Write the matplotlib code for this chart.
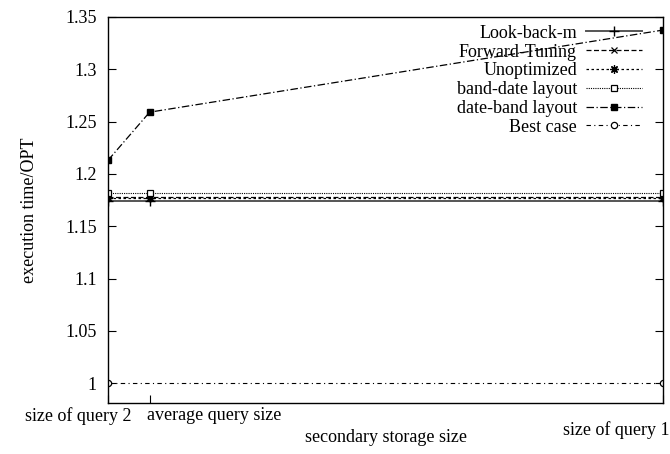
import matplotlib
matplotlib.use("Agg")
import matplotlib.pyplot as plt
from matplotlib.transforms import ScaledTranslation

plt.rcParams['font.family'] = ['Liberation Serif', 'DejaVu Serif']

# x positions of the three storage sizes (relative)
x_pos = [0.0, 0.075, 1.0]
x_labels = ["size of query 2", "average query size", "size of query 1"]

look_back = [1.1745, 1.1745, 1.1745]
forward_tuning = [1.1775, 1.1775, 1.1775]
unoptimized = [1.1768, 1.1768, 1.1768]
band_date = [1.1815, 1.1815, 1.1815]
date_band = [1.213, 1.259, 1.3375]
best_x = [0.0, 1.0]
best_case = [1.0, 1.0]

y_ticks = [1, 1.05, 1.1, 1.15, 1.2, 1.25, 1.3, 1.35]
y_tick_labels = ["1", "1.05", "1.1", "1.15", "1.2", "1.25", "1.3", "1.35"]

fs = 13

fig = plt.figure(figsize=(6.7, 4.54), dpi=100)
ax = fig.add_axes([0.1612, 0.1123, 0.8284, 0.8503])

ax.plot(x_pos, look_back, color="#555555", lw=1.4, marker="+", ms=7, mew=1,
        mec="black", label="Look-back-m")
ax.plot(x_pos, forward_tuning, color="black", lw=0.9, ls=(0, (4, 2)),
        marker="x", ms=4.5, mew=0.9, label="Forward-Tuning")
ax.plot(x_pos, unoptimized, color="black", lw=0.9, ls=(0, (2, 2)),
        marker=(8, 2, 0), ms=6, mew=0.9, label="Unoptimized")
ax.plot(x_pos, band_date, color="black", lw=0.8, ls=(0, (1, 1)),
        marker="s", ms=5, mfc="white", mew=0.9, label="band-date layout")
ax.plot(x_pos, date_band, color="black", lw=0.9, ls=(0, (6, 2, 1, 2)),
        marker="s", ms=5, mfc="black", label="date-band layout")
ax.plot(best_x, best_case, color="black", lw=0.8, ls=(0, (4, 3, 1, 3)),
        marker="o", ms=4.5, mfc="white", mew=0.9, label="Best case")

ax.set_xlim(0, 1)
ax.set_ylim(0.981, 1.35)
ax.set_yticks(y_ticks)
ax.set_yticklabels(y_tick_labels, fontsize=fs)
ax.set_xticks(x_pos)
ax.set_xticklabels(x_labels, fontsize=fs)

ax.tick_params(axis="y", direction="in", length=6, width=0.8, right=True, pad=8)
ax.tick_params(axis="x", direction="in", length=6, width=0.8, top=False, pad=3)

labs = ax.get_xticklabels()
labs[0].set_transform(labs[0].get_transform() + ScaledTranslation(-0.30, 0, fig.dpi_scale_trans))
labs[1].set_ha("left")
labs[1].set_transform(labs[1].get_transform() + ScaledTranslation(-0.03, 0, fig.dpi_scale_trans))
labs[2].set_ha("right")
labs[2].set_transform(labs[2].get_transform() + ScaledTranslation(0.07, -0.14, fig.dpi_scale_trans))

for s in ax.spines.values():
    s.set_linewidth(1.0)

ax.set_xlabel("secondary storage size", fontsize=fs)
ax.xaxis.set_label_coords(0.5, -0.068)
ax.set_ylabel("execution time/OPT", fontsize=fs)
ax.yaxis.set_label_coords(-0.127, 0.5)

ax.legend(loc="upper right", bbox_to_anchor=(0.962, 0.98), frameon=False,
          markerfirst=False, fontsize=fs, handlelength=3.1, handletextpad=0.5,
          labelspacing=0.1, borderpad=0, borderaxespad=0)

fig.savefig("out.png", dpi=100)
